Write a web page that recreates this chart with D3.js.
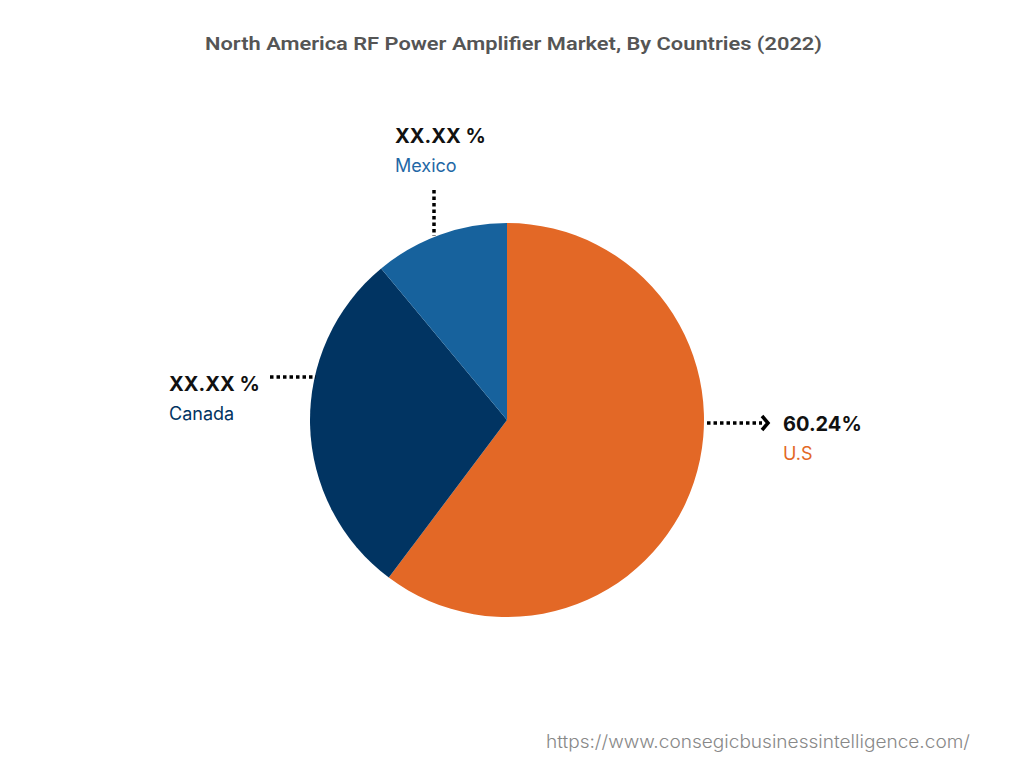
<!DOCTYPE html>
<html>
<head>
<meta charset="utf-8">
<script src="https://cdn.jsdelivr.net/npm/d3@7"></script>
<style>
  body { margin: 0; background: #fff; }
  svg { display: block; }
</style>
</head>
<body>
<svg id="chart" width="1024" height="768"></svg>
<script>
var countries = ["U.S", "Canada", "Mexico"];
var shares = [60.24, 28.73, 11.03];
var shareLabels = ["60.24%", "XX.XX %", "XX.XX %"];
var colors = ["#E36826", "#013462", "#17629D"];
var labelColors = ["#E36826", "#013462", "#1F68A6"];

var svg = d3.select("#chart");
var cx = 507, cy = 420, radius = 197;

svg.append("text")
   .attr("x", 205).attr("y", 50)
   .attr("textLength", 617).attr("lengthAdjust", "spacingAndGlyphs")
   .style("font", "600 19px Roboto, sans-serif")
   .style("fill", "#555")
   .text("North America RF Power Amplifier Market, By Countries (2022)");

var pie = d3.pie().sort(null).value(function(d) { return d; });
var arcs = pie(shares);
var arc = d3.arc().innerRadius(0).outerRadius(radius);

var g = svg.append("g").attr("transform", "translate(" + cx + "," + cy + ")");
g.selectAll("path")
  .data(arcs)
  .enter().append("path")
  .attr("d", arc)
  .attr("fill", function(d, i) { return colors[i]; });

// leader lines + labels (positions per slice)
var labels = [
  {x: 783, y: 431, line: [[707, 423], [762, 423]], arrow: true},
  {x: 169, y: 391, line: [[270, 377], [316, 377]]},
  {x: 395, y: 143, line: [[434, 190], [434, 236]]}
];

labels.forEach(function(l, i) {
  svg.append("line")
     .attr("x1", l.line[0][0]).attr("y1", l.line[0][1])
     .attr("x2", l.line[1][0]).attr("y2", l.line[1][1])
     .attr("stroke", "#000").attr("stroke-width", 3.5)
     .attr("stroke-dasharray", "3.5,3");
  if (l.arrow) {
    var ax = l.line[1][0], ay = l.line[1][1];
    svg.append("path")
       .attr("d", "M" + ax + "," + (ay - 7) + "L" + (ax + 6) + "," + ay + "L" + ax + "," + (ay + 7))
       .attr("fill", "none").attr("stroke", "#000").attr("stroke-width", 3.5);
  }
  svg.append("text")
     .attr("x", l.x).attr("y", l.y)
     .style("font", "bold 20px Inter, sans-serif")
     .style("fill", "#111")
     .text(shareLabels[i]);
  svg.append("text")
     .attr("x", l.x).attr("y", l.y + 29)
     .style("font", "18px Inter, sans-serif")
     .style("fill", labelColors[i])
     .text(countries[i]);
});

svg.append("text")
   .attr("x", 546).attr("y", 748)
   .attr("textLength", 424).attr("lengthAdjust", "spacingAndGlyphs")
   .style("font", "300 18px Inter, sans-serif")
   .style("fill", "#888")
   .text("https://www.consegicbusinessintelligence.com/");
</script>
</body>
</html>
